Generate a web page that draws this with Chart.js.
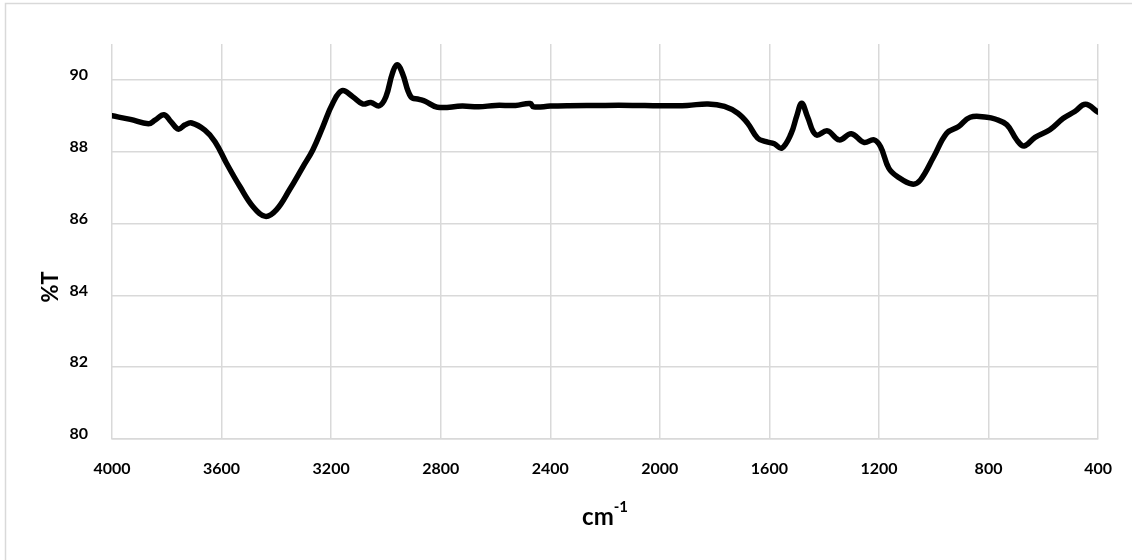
<!DOCTYPE html>
<html>
<head>
<meta charset="utf-8">
<title>FTIR spectrum</title>
<script src="https://cdn.jsdelivr.net/npm/chart.js@4"></script>
<style>
  body { margin: 0; background: #fff; }
  #wrap { width: 1132px; height: 560px; }
</style>
</head>
<body>
<div id="wrap"><canvas id="spectrum" width="1132" height="560"></canvas></div>
<script>
// wavenumber (cm-1) and transmittance (%T) of the spectrum trace
const wavenumbers = [
  4000, 3933, 3867, 3843, 3810, 3785, 3758, 3733, 3709, 3661, 3624, 3582,
  3533, 3485, 3440, 3400, 3352, 3303, 3267, 3230, 3194, 3160, 3121, 3085,
  3055, 3024, 3000, 2976, 2958, 2940, 2909, 2879, 2855, 2812, 2721, 2661,
  2600, 2527, 2473, 2461, 2400, 2333, 2200, 2100, 2000, 1900, 1824, 1764,
  1715, 1679, 1643, 1612, 1582, 1555, 1521, 1500, 1482, 1461, 1430, 1388,
  1345, 1301, 1255, 1218, 1194, 1164, 1133, 1079, 1049, 1000, 952, 909,
  867, 806, 776, 733, 697, 670, 630, 576, 527, 485, 446, 400
];
const transmittance = [
  89.0, 88.9, 88.78, 88.88, 89.03, 88.84, 88.63, 88.75, 88.8, 88.6, 88.28, 87.68,
  87.03, 86.47, 86.2, 86.38, 86.94, 87.58, 88.05, 88.7, 89.35, 89.7, 89.53, 89.33,
  89.37, 89.28, 89.53, 90.19, 90.42, 90.19, 89.53, 89.46, 89.4, 89.24, 89.27, 89.25,
  89.29, 89.29, 89.34, 89.25, 89.27, 89.28, 89.29, 89.29, 89.28, 89.29, 89.33, 89.26,
  89.07, 88.79, 88.38, 88.28, 88.22, 88.1, 88.5, 89.0, 89.35, 88.98, 88.47, 88.58,
  88.33, 88.5, 88.26, 88.33, 88.14, 87.54, 87.31, 87.1, 87.21, 87.86, 88.52, 88.7,
  88.96, 88.96, 88.91, 88.75, 88.33, 88.16, 88.4, 88.61, 88.93, 89.12, 89.32, 89.1
];

const xTicks = [4000, 3600, 3200, 2800, 2400, 2000, 1600, 1200, 800, 400];
const yTicks = [80, 82, 84, 86, 88, 90];

const points = wavenumbers.map((w, i) => ({ x: w, y: transmittance[i] }));

const gridColor = "#d9d9d9";
const tickFont = { family: "Lato", size: 16, weight: "bold" };

// frame and axis titles (the x title carries a superscript)
const decorations = {
  id: "decorations",
  beforeDraw(chart) {
    const ctx = chart.ctx;
    ctx.save();
    ctx.strokeStyle = gridColor;
    ctx.lineWidth = 1.5;
    ctx.beginPath();
    ctx.moveTo(5.5, 600);
    ctx.lineTo(5.5, 3.5);
    ctx.lineTo(1200, 3.5);
    ctx.stroke();
    ctx.restore();
  },
  afterDraw(chart) {
    const ctx = chart.ctx;
    const area = chart.chartArea;
    ctx.save();
    ctx.fillStyle = "#000";
    ctx.textBaseline = "middle";

    // x title: cm^-1
    const mid = (area.left + area.right) / 2;
    ctx.font = "bold 24px Lato";
    const wBase = ctx.measureText("cm").width;
    ctx.font = "bold 15px Lato";
    const wSup = ctx.measureText("-1").width;
    const x0 = mid - (wBase + wSup) / 2;
    ctx.textAlign = "left";
    ctx.font = "bold 24px Lato";
    ctx.fillText("cm", x0, 517);
    ctx.font = "bold 15px Lato";
    ctx.fillText("-1", x0 + wBase, 507);

    // y title: %T
    ctx.translate(51, 287);
    ctx.rotate(-Math.PI / 2);
    ctx.textAlign = "center";
    ctx.font = "bold 22px Lato";
    ctx.fillText("%T", 0, 0);
    ctx.restore();
  }
};

new Chart(document.getElementById("spectrum").getContext("2d"), {
  type: "line",
  data: {
    datasets: [
      {
        label: "%T",
        data: points,
        borderColor: "#000",
        borderWidth: 5.5,
        borderCapStyle: "round",
        borderJoinStyle: "round",
        pointRadius: 0,
        tension: 0.4,
        fill: false,
      },
    ],
  },
  options: {
    responsive: false,
    animation: false,
    layout: { padding: { top: 44, right: 28, left: 0, bottom: 0 } },
    plugins: {
      legend: { display: false },
      tooltip: { enabled: false },
    },
    scales: {
      x: {
        type: "linear",
        reverse: true,
        min: 400,
        max: 4000,
        afterBuildTicks: (scale) => {
          scale.ticks = xTicks.map((v) => ({ value: v }));
        },
        afterFit: (scale) => {
          scale.height = 121;
        },
        grid: { color: gridColor, lineWidth: 1.5, drawTicks: false },
        border: { display: true, color: gridColor, width: 1.5 },
        ticks: {
          color: "#000",
          font: tickFont,
          padding: 20,
          maxRotation: 0,
          callback: (v) => String(v),
        },
      },
      y: {
        min: 80,
        max: 91,
        afterBuildTicks: (scale) => {
          scale.ticks = yTicks.map((v) => ({ value: v }));
        },
        afterFit: (scale) => {
          scale.width = 112;
        },
        grid: { color: gridColor, lineWidth: 1.5, drawTicks: false },
        border: { display: false },
        ticks: {
          color: "#000",
          font: tickFont,
          padding: 24,
          labelOffset: -5,
          callback: (v) => String(v),
        },
      },
    },
  },
  plugins: [decorations],
});
</script>
</body>
</html>
